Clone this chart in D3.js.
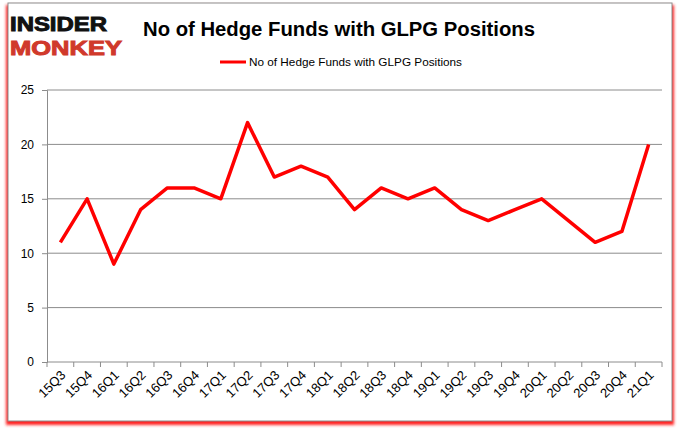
<!DOCTYPE html>
<html>
<head>
<meta charset="utf-8">
<script src="https://cdn.jsdelivr.net/npm/d3@7"></script>
<style>
  body { margin: 0; background: #fff; }
  text { font-family: "Liberation Sans", Arial, sans-serif; }
</style>
</head>
<body>
<script>
const width = 680;
const height = 433;

const quarters = ["15Q3", "15Q4", "16Q1", "16Q2", "16Q3", "16Q4", "17Q1", "17Q2", "17Q3", "17Q4",
  "18Q1", "18Q2", "18Q3", "18Q4", "19Q1", "19Q2", "19Q3", "19Q4", "20Q1", "20Q2", "20Q3", "20Q4", "21Q1"];
const funds = [11, 15, 9, 14, 16, 16, 15, 22, 17, 18, 17, 14, 16, 15, 16, 14, 13, 14, 15, 13, 11, 12, 20];
const yTicks = [0, 5, 10, 15, 20, 25];
const seriesName = "No of Hedge Funds with GLPG Positions";

const svg = d3.select("body")
  .append("svg")
  .attr("width", width)
  .attr("height", height);

const defs = svg.append("defs");
defs.append("filter")
  .attr("id", "blur")
  .attr("x", "-5%").attr("y", "-5%").attr("width", "110%").attr("height", "110%")
  .append("feGaussianBlur")
  .attr("stdDeviation", 1.5);

// frame with red shadow
svg.append("rect")
  .attr("x", 6).attr("y", 5)
  .attr("width", 668).attr("height", 420)
  .attr("fill", "#ff2020")
  .attr("filter", "url(#blur)");
svg.append("rect")
  .attr("x", 8).attr("y", 3)
  .attr("width", 664).attr("height", 418)
  .attr("fill", "#fff")
  .attr("stroke", "#8c8c8c")
  .attr("stroke-width", 1);

// logo
svg.append("text")
  .attr("x", 10).attr("y", 31)
  .attr("font-size", 21).attr("font-weight", "bold")
  .attr("font-family", "DejaVu Sans")
  .attr("textLength", 97).attr("lengthAdjust", "spacingAndGlyphs")
  .attr("fill", "#111").attr("stroke", "#111").attr("stroke-width", 1)
  .text("INSIDER");
svg.append("text")
  .attr("x", 10).attr("y", 55)
  .attr("font-size", 21).attr("font-weight", "bold")
  .attr("font-family", "DejaVu Sans")
  .attr("textLength", 112).attr("lengthAdjust", "spacingAndGlyphs")
  .attr("fill", "#d0392b").attr("stroke", "#d0392b").attr("stroke-width", 1)
  .text("MONKEY");

svg.append("text")
  .attr("x", 143).attr("y", 36)
  .attr("font-size", 20).attr("font-weight", "bold")
  .attr("textLength", 392).attr("lengthAdjust", "spacingAndGlyphs")
  .attr("fill", "#000")
  .text(seriesName);

// legend
svg.append("line")
  .attr("x1", 220).attr("x2", 246)
  .attr("y1", 62).attr("y2", 62)
  .attr("stroke", "#f00").attr("stroke-width", 3);
svg.append("text")
  .attr("x", 249).attr("y", 66)
  .attr("font-size", 11)
  .attr("textLength", 213).attr("lengthAdjust", "spacingAndGlyphs")
  .text(seriesName);

const x = d3.scaleBand()
  .domain(quarters)
  .range([47, 662]);

const y = d3.scaleLinear()
  .domain([0, 25])
  .range([362, 90]);

// gridlines
svg.append("g")
  .selectAll("line")
  .data(yTicks.slice(1))
  .join("line")
  .attr("x1", 47).attr("x2", 662)
  .attr("y1", d => y(d)).attr("y2", d => y(d))
  .attr("stroke", "#8c8c8c");

const yAxis = svg.append("g")
  .attr("transform", "translate(47,0)")
  .call(d3.axisLeft(y).tickValues(yTicks).tickSize(5).tickPadding(8));
yAxis.selectAll("path, line").attr("stroke", "#8c8c8c");
yAxis.selectAll("text").attr("font-size", 12).attr("fill", "#000")
  .attr("font-family", "Liberation Sans");

// x axis with ticks at category boundaries
const xAxis = svg.append("g")
  .attr("transform", "translate(0,362)");
xAxis.append("line")
  .attr("x1", 47).attr("x2", 662)
  .attr("stroke", "#8c8c8c");
xAxis.selectAll(".tick")
  .data(quarters.concat([null]))
  .join("line")
  .attr("x1", (d, i) => 47 + i * x.step())
  .attr("x2", (d, i) => 47 + i * x.step())
  .attr("y1", 0).attr("y2", 5)
  .attr("stroke", "#8c8c8c");
xAxis.selectAll("text")
  .data(quarters)
  .join("text")
  .attr("transform", d => `translate(${x(d) + x.bandwidth() / 2 + 6},${14}) rotate(-45)`)
  .attr("text-anchor", "end")
  .attr("font-size", 13)
  .attr("fill", "#000")
  .text(d => d);

const line = d3.line()
  .x((d, i) => x(quarters[i]) + x.bandwidth() / 2)
  .y(d => y(d));

svg.append("path")
  .datum(funds)
  .attr("d", line)
  .attr("fill", "none")
  .attr("stroke", "#f00")
  .attr("stroke-width", 3.5)
  .attr("stroke-linejoin", "round");
</script>
</body>
</html>
